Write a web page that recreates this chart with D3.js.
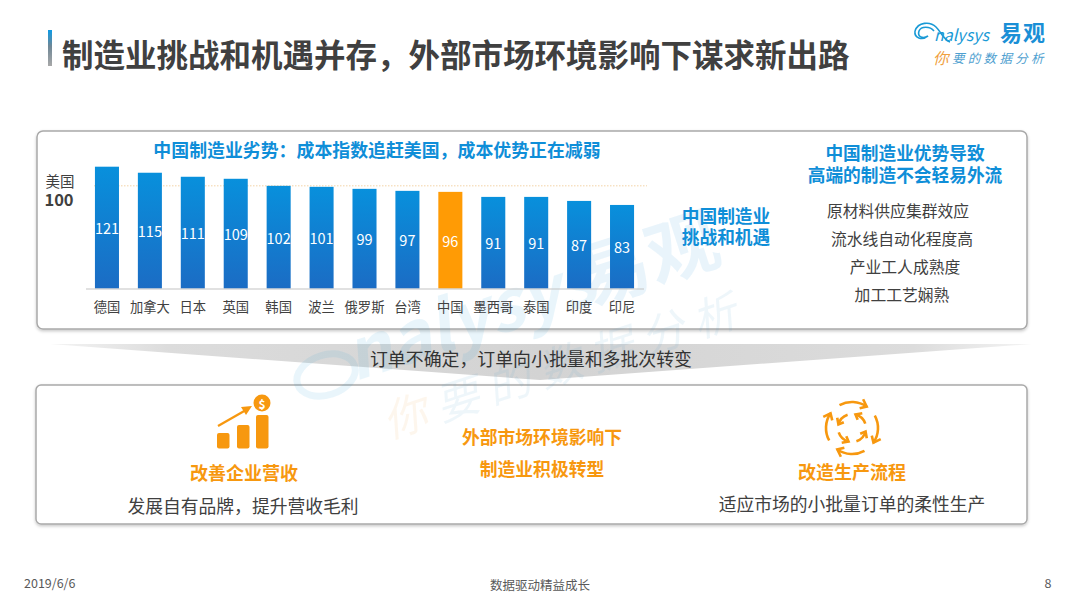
<!DOCTYPE html>
<html>
<head>
<meta charset="utf-8">
<script src="https://cdn.jsdelivr.net/npm/d3@7"></script>
<style>
html, body { margin: 0; padding: 0; background: #fff; }
svg { display: block; }
text { font-family: "Noto Sans CJK SC", "Noto Sans", sans-serif; }
</style>
</head>
<body>
<svg width="1080" height="607"></svg>
<script>
let categories = ["德国", "加拿大", "日本", "英国", "韩国", "波兰", "俄罗斯", "台湾", "中国", "墨西哥", "泰国", "印度", "印尼"]
let values = [121, 115, 111, 109, 102, 101, 99, 97, 96, 91, 91, 87, 83]
let highlight = "中国"
// the dotted line sits level with the 102 bar in the picture, even though it is labelled 100
let refValue = 102
let advantages = ["原材料供应集群效应", "流水线自动化程度高", "产业工人成熟度", "加工工艺娴熟"]

let blue = "#0f8ed8", orange = "#f7980f", dark = "#404040"

var svg = d3.select("svg")
var defs = svg.append("defs")

function gradient(id, stops, vertical) {
    var g = defs.append("linearGradient").attr("id", id)
        .attr("x1", 0).attr("y1", 0).attr("x2", vertical ? 0 : 1).attr("y2", vertical ? 1 : 0)
    stops.forEach(function (s) {
        g.append("stop").attr("offset", s[0]).attr("stop-color", s[1])
    })
}
gradient("barBlue", [[0, "#0890dc"], [1, "#1b6cc4"]], true)
gradient("titleBar", [[0, "#0d9be6"], [0.45, "#6f8796"], [1, "#a8a8a8"]], true)
gradient("band", [[0, "#f4f4f4"], [0.12, "#dcdcdc"], [0.5, "#d3d3d3"], [0.88, "#dcdcdc"], [1, "#f4f4f4"]], false)

var shadow = defs.append("filter").attr("id", "shadow")
    .attr("x", "-2%").attr("y", "-4%").attr("width", "104%").attr("height", "110%")
shadow.append("feDropShadow").attr("dx", 0).attr("dy", 1.5).attr("stdDeviation", 1.8)
    .attr("flood-color", "#000").attr("flood-opacity", 0.22)

function label(x, y, str, size, color, weight, anchor) {
    return svg.append("text")
        .attr("x", x).attr("y", y)
        .attr("font-size", size + "px")
        .attr("fill", color)
        .attr("font-weight", weight || 400)
        .attr("text-anchor", anchor || "middle")
        .attr("dominant-baseline", "central")
        .text(str)
}

// title
svg.append("rect").attr("x", 48).attr("y", 30).attr("width", 4).attr("height", 36).attr("fill", "url(#titleBar)")
label(62, 53, "制造业挑战和机遇并存，外部市场环境影响下谋求新出路", 31.5, dark, 700, "start")

// logo
svg.append("path")
    .attr("d", "M915,31 C918,22 930,21 936,27 C941,32 944,40 950,42 M915,31 C914,38 922,41 928,36 C923,39 917,37 919,31 C921,26 930,26 934,31")
    .attr("fill", "none").attr("stroke", "#1a9ad6").attr("stroke-width", 1.6)
label(934, 34, "nalysys", 16, "#1a9ad6", 400, "start").attr("font-style", "italic").attr("font-family", "Lato")
label(1023, 31, "易观", 22, "#1a8fd6", 700).attr("letter-spacing", "1px")
label(933, 57, "你", 15.5, "#f0a040", 400, "start").attr("font-style", "italic")
label(952, 57, "要的数据分析", 12.5, "#4f9fd0", 400, "start").attr("font-style", "italic").attr("letter-spacing", "3.3px")

// panels
svg.append("rect").attr("x", 37).attr("y", 131).attr("width", 990).attr("height", 198).attr("rx", 6)
    .attr("fill", "#fff").attr("stroke", "#a9a9a9").attr("stroke-width", 1.5).attr("filter", "url(#shadow)")
svg.append("rect").attr("x", 36).attr("y", 385).attr("width", 991).attr("height", 139).attr("rx", 5)
    .attr("fill", "#fff").attr("stroke", "#a9a9a9").attr("stroke-width", 1.5).attr("filter", "url(#shadow)")

// funnel band between the panels
svg.append("path").attr("d", "M50,344 L1032,344 L540,380 Z").attr("fill", "url(#band)")

// watermark
var wm = svg.append("g").attr("transform", "translate(10,-30) rotate(-18 500 340)").attr("opacity", 0.09)
wm.append("text").attr("x", 330).attr("y", 360).attr("font-size", "70px").attr("font-family", "Lato")
    .attr("font-style", "italic").attr("font-weight", 700).attr("fill", "#1a9ad6").text("nalysys")
wm.append("text").attr("x", 575).attr("y", 360).attr("font-size", "72px").attr("font-weight", 700)
    .attr("fill", "#1a8fd6").text("易观")
wm.append("ellipse").attr("cx", 305).attr("cy", 345).attr("rx", 30).attr("ry", 20)
    .attr("fill", "none").attr("stroke", "#1a9ad6").attr("stroke-width", 7)
wm.append("text").attr("x", 345).attr("y", 425).attr("font-size", "44px").attr("font-style", "italic")
    .attr("fill", "#f0a040").text("你")
wm.append("text").attr("x", 400).attr("y", 425).attr("font-size", "44px").attr("font-style", "italic")
    .attr("letter-spacing", "10px").attr("fill", "#4f9fd0").text("要的数据分析")

label(531, 358, "订单不确定，订单向小批量和多批次转变", 17.9, "#333")

// chart
var x = d3.scaleBand().domain(categories).range([85.5, 643.5]).paddingInner(0.44).paddingOuter(0.22)
var y = d3.scaleLinear().domain([0, 121]).range([288.5, 166.7])

svg.append("line").attr("x1", 94).attr("x2", 647).attr("y1", y(refValue)).attr("y2", y(refValue))
    .attr("stroke", "#f3d3a6").attr("stroke-width", 1).attr("stroke-dasharray", "1.5 1.5")

svg.selectAll(".bar")
    .data(values)
    .enter().append("rect")
    .attr("class", "bar")
    .attr("x", function (d, i) { return x(categories[i]) })
    .attr("y", function (d) { return y(d) })
    .attr("width", x.bandwidth())
    .attr("height", function (d) { return y(0) - y(d) })
    .attr("fill", function (d, i) { return categories[i] === highlight ? "#ff9b05" : "url(#barBlue)" })

svg.selectAll(".val")
    .data(values)
    .enter().append("text")
    .attr("class", "val")
    .attr("x", function (d, i) { return x(categories[i]) + x.bandwidth() / 2 })
    .attr("y", function (d) { return (y(d) + y(0)) / 2 })
    .attr("text-anchor", "middle")
    .attr("dominant-baseline", "central")
    .attr("font-size", "14.5px")
    .attr("font-family", "Noto Sans")
    .attr("fill", "#fff")
    .text(function (d) { return d })

var axis = svg.append("g")
    .attr("transform", "translate(0,288.5)")
    .call(d3.axisBottom(x).tickSize(0).tickPadding(14))
axis.select(".domain").attr("stroke", "#c4c4c4").attr("stroke-width", 1.2)
axis.selectAll("text")
    .attr("font-family", "Noto Sans CJK SC")
    .attr("font-size", "13.3px").attr("fill", "#404040")

label(60, 180, "美国", 14.5, "#404040")
label(59, 199, "100", 16.5, "#404040", 700)

label(377, 149, "中国制造业劣势：成本指数追赶美国，成本优势正在减弱", 17.9, blue, 700)
label(726, 215, "中国制造业", 17.7, blue, 700)
label(726, 236, "挑战和机遇", 17.7, blue, 700)
label(905, 152, "中国制造业优势导致", 17.7, blue, 700)
label(905, 174, "高端的制造不会轻易外流", 17.7, blue, 700)

// the four lines are not centred on one another in the picture
var advY = d3.scalePoint().domain(advantages).range([210, 294])
var advX = [898, 902, 905, 902]
advantages.forEach(function (d, i) { label(advX[i], advY(d), d, 15.8, "#404040") })

// bottom panel text
label(244, 472, "改善企业营收", 18, orange, 700)
label(243, 505, "发展自有品牌，提升营收毛利", 17.8, "#404040")
label(542, 436, "外部市场环境影响下", 17.8, orange, 700)
label(542, 468, "制造业积极转型", 17.8, orange, 700)
label(852, 471, "改造生产流程", 18, orange, 700)
label(852, 503, "适应市场的小批量订单的柔性生产", 17.8, "#404040")

// revenue icon
var icon = svg.append("g").attr("fill", orange)
;[[217, 433], [237, 425], [256, 415]].forEach(function (b) {
    icon.append("rect").attr("x", b[0]).attr("y", b[1]).attr("width", 12.5).attr("height", 448.5 - b[1]).attr("rx", 2)
})
icon.append("path").attr("d", "M218,426 L246,410").attr("stroke", orange).attr("stroke-width", 2.2)
icon.append("path").attr("d", "M252,406 L241,407 L246,415 Z")
icon.append("circle").attr("cx", 262).attr("cy", 403).attr("r", 8.5)
icon.append("text").attr("x", 262).attr("y", 403).attr("text-anchor", "middle").attr("dominant-baseline", "central")
    .attr("font-size", "12px").attr("font-weight", 700).attr("fill", "#fff").text("$")

// process icon: four outer arcs and four inner arrows
var cx = 852, cy = 428
var cycle = svg.append("g").attr("transform", "translate(" + cx + "," + cy + ")")
    .attr("fill", "none").attr("stroke", orange).attr("stroke-width", 2.6)
function arrowArc(r, a0, a1, head) {
    var p = function (r, a) { return [r * Math.sin(a), -r * Math.cos(a)] }
    cycle.append("path").attr("d", d3.arc()({ innerRadius: r, outerRadius: r, startAngle: a0, endAngle: a1 }))
    var dir = a1 > a0 ? 1 : -1
    var tip = p(r, a1)
    var back = a1 - dir * head / r
    var h1 = p(r + head * 0.8, back), h2 = p(r - head * 0.8, back)
    cycle.append("path").attr("d", "M" + h1 + " L" + tip + " L" + h2)
}
d3.range(4).forEach(function (i) {
    var a = i * Math.PI / 2
    // outer arcs run clockwise, tips just past each quarter
    arrowArc(26, a - 0.5, a + 0.6, 6)
    // inner ones run the other way
    arrowArc(14, a + 0.75 + 0.5, a + 0.75 - 0.5, 5)
})

// footer
label(24, 582, "2019/6/6", 12.5, "#595959", 400, "start")
label(540, 584, "数据驱动精益成长", 12.5, "#595959")
label(1048, 582, "8", 12.5, "#595959")
</script>
</body>
</html>
